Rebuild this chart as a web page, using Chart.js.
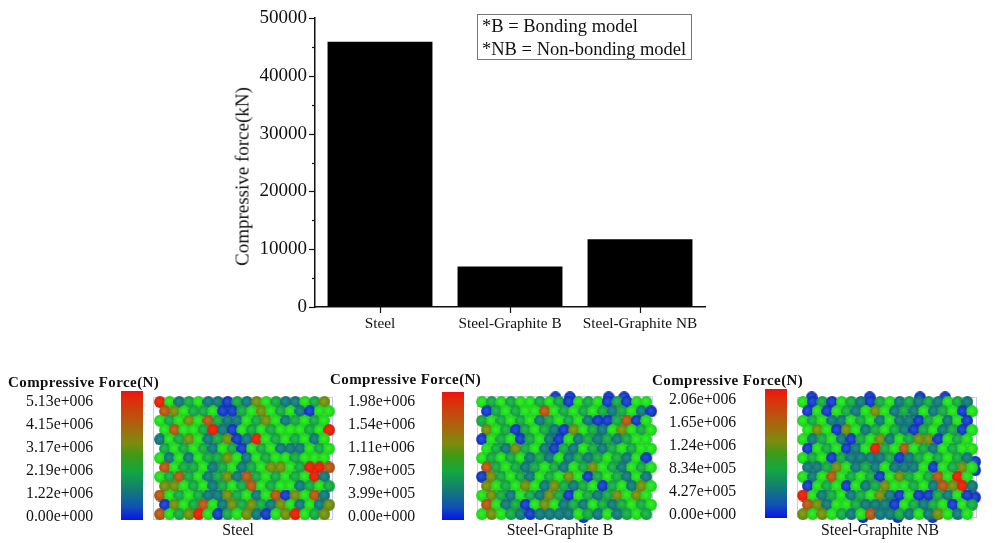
<!DOCTYPE html>
<html>
<head>
<meta charset="utf-8">
<script src="https://cdn.jsdelivr.net/npm/chart.js@4"></script>
<style>
  html, body { margin: 0; padding: 0; background: #fff; }
  #page { position: relative; width: 995px; height: 543px; overflow: hidden; font-family: "Liberation Serif", serif; color: #111; }
  #page canvas { position: absolute; }
  .txt { position: absolute; white-space: nowrap; line-height: 1; }
  .note { position: absolute; left: 477px; top: 14px; width: 213px; height: 44px; border: 1px solid #777; font-size: 18.5px; }
  .note div { position: absolute; left: 4px; white-space: nowrap; line-height: 1; }
  .bar { position: absolute; width: 22px; background: linear-gradient(to bottom, #f01010 0%, #e02a0c 6%, #b9560f 22%, #7f8a10 40%, #3f9a16 50%, #12a83e 62%, #127f72 76%, #1050b8 90%, #0a14e8 100%); }
  .box { position: absolute; border: 1px solid #c8cbf0; box-sizing: border-box; }
</style>
</head>
<body>
<div id="page">
  <canvas id="barChart" width="995" height="345" style="left:0;top:0"></canvas>
  <div class="note"><div style="top:2px">*B = Bonding model</div><div style="top:25px">*NB = Non-bonding model</div></div>
</div>
<script>
// top chart
const categories = ['Steel', 'Steel-Graphite B', 'Steel-Graphite NB'];
const forceKN = [45900, 7010, 11740];

// bottom panels, one letter per particle, low force to high force: b t e g o r R
const steelRows = [
  'Rgtegttbetogettgeo', 'rogeegbbegogegtbgg', 'gegogrettgeogtegeg', 'grggeRtbgegegggegR',
  'tgeogteobtRgegegtg', 'egegetgebgegtttgeg', 'gtgtgeeogtgeggeggg', 'rgeegtegtegoogeRRr',
  'geregteotregegegRt', 'oogegtegergeggtege', 'rgegettoegtgrbogrt', 'bogergtoeoetogtgto',
  'rgeoRgbegotbgoRgeo'
];
const bondedRows = [
  'gegeggegebgegbebgg', 'begeggrgegegetegtb', 'egegegtegegtbberbg', 'ogebegetbogetgogeg',
  'bgegbegtbgtetetegg', 'getoegtbetgetegegg', 'gegegtetgtetegetgb', 'regetegetgeogetgeg',
  'boegetgegogbegetgt', 'ogegogtoetegbegtog', 'goetgetoebgeteogog', 'rgtebgogtetgetegeg',
  'gogetbttttgetgtege'
];
const nonBondedRows = [
  'gbebgetbegtetetget', 'bgbgetgogtetgtegbg', 'gegttgegtgttbegtgb', 'gogbogtegetbegtebg',
  'gtegtbegotgeoobgeg', 'bgegbtgRegrgetgegg', 'gegbettttebtegeget', 'tteogtetgtttgbgeog',
  'gtgrgegebgoegergRg', 'bgegbgteoggegtroRt', 'Rgtegtegotbgbbetgb', 'rotggetttbgetegbge',
  'ogogetgrttetgtogtg'
];
// blue particles poking out of the packing, [column, row]
const bondedEdge = [[7.6, -0.5], [9.1, -0.5], [13.1, -0.5], [14.7, -0.5], [10.5, 12.3]];
const nonBondedEdge = [[0.9, -0.5], [6.9, -0.5], [12.1, -0.5], [14.7, -0.5], [6.2, 12.3], [9.8, 12.3], [13.4, 12.3], [17.8, 6.4], [17.8, 7.3], [17.8, 10.2]];

const steelTicks = ['5.13e+006', '4.15e+006', '3.17e+006', '2.19e+006', '1.22e+006', '0.00e+000'];
const bondedTicks = ['1.98e+006', '1.54e+006', '1.11e+006', '7.98e+005', '3.99e+005', '0.00e+000'];
const nonBondedTicks = ['2.06e+006', '1.65e+006', '1.24e+006', '8.34e+005', '4.27e+005', '0.00e+000'];
const panelTitle = 'Compressive Force(N)';

const levelColors = {
  b: ['#2450d8', '#0e2cb4'], t: ['#1c8c84', '#126a72'], e: ['#20bc4c', '#149640'], g: ['#2cf024', '#1ecc1c'],
  o: ['#80a018', '#608210'], r: ['#c4681c', '#a04e16'], R: ['#f42c0e', '#d41e0c']
};
const CELL_X = 9.67;
const CELL_Y = 9.35;

const page = document.getElementById('page');

function addText(str, left, top, size, extra) {
  const el = document.createElement('div');
  el.className = 'txt';
  el.textContent = str;
  el.style.left = left + 'px';
  el.style.top = (top - size / 2) + 'px';
  el.style.fontSize = size + 'px';
  if (extra) Object.assign(el.style, extra);
  page.appendChild(el);
  return el;
}

// one shaded ball per force level, used as the bubble point style
const sprites = {};
Object.keys(levelColors).forEach(k => {
  const s = document.createElement('canvas');
  s.width = s.height = 12;
  const c = s.getContext('2d');
  const g = c.createRadialGradient(5.2, 5.2, 1, 6, 6, 6);
  g.addColorStop(0, levelColors[k][0]);
  g.addColorStop(1, levelColors[k][1]);
  c.fillStyle = g;
  c.beginPath();
  c.arc(6, 6, 5.9, 0, Math.PI * 2);
  c.fill();
  sprites[k] = s;
});

// tick marks drawn by hand, chart.js only does one tick length per axis
const axisTicks = {
  id: 'axisTicks',
  afterDraw(chart) {
    const { x, y } = chart.scales, c = chart.ctx;
    c.save();
    c.strokeStyle = '#111';
    c.lineWidth = 1.2;
    y.ticks.forEach(t => {
      const py = Math.round(y.getPixelForValue(t.value)) + 0.5;
      const len = t.value % 10000 === 0 ? 6 : 3;
      c.beginPath();
      c.moveTo(y.right - len, py);
      c.lineTo(y.right, py);
      c.stroke();
    });
    categories.forEach((cat, i) => {
      const px = Math.round(x.getPixelForValue(i)) + 0.5;
      c.beginPath();
      c.moveTo(px, chart.chartArea.bottom);
      c.lineTo(px, chart.chartArea.bottom + 6);
      c.stroke();
    });
    c.restore();
  }
};

new Chart(document.getElementById('barChart'), {
  type: 'bar',
  data: {
    labels: categories,
    datasets: [{ data: forceKN, backgroundColor: '#000', barPercentage: 0.807, categoryPercentage: 1 }]
  },
  options: {
    responsive: false,
    animation: false,
    layout: { padding: { left: 225, right: 290, top: 18, bottom: 8 } },
    plugins: { legend: { display: false }, tooltip: { enabled: false } },
    scales: {
      x: {
        afterFit: s => { s.height = 30; },
        border: { color: '#111', width: 1.5 },
        grid: { drawOnChartArea: false, tickLength: 5, tickColor: 'rgba(0,0,0,0)' },
        ticks: { color: '#111', padding: 3, maxRotation: 0, autoSkip: false, font: { family: 'Liberation Serif', size: 15.3 } }
      },
      y: {
        min: 0,
        max: 50000,
        afterFit: s => { s.width = 90; },
        border: { color: '#111', width: 1.5 },
        grid: { drawOnChartArea: false, tickLength: 6, tickColor: 'rgba(0,0,0,0)' },
        ticks: {
          stepSize: 5000,
          color: '#111',
          padding: 2,
          font: { family: 'Liberation Serif', size: 19 },
          callback: v => (v % 10000 === 0 ? String(v) : '')
        }
      }
    }
  },
  plugins: [axisTicks]
});

// y axis title sits below the axis middle in the reference
const yTitle = addText('Compressive force(kN)', 242, 176, 19);
yTitle.style.transform = 'translate(-50%, 0) rotate(-90deg)';

function drawPanel(p) {
  const canvas = document.createElement('canvas');
  canvas.width = 205;
  canvas.height = 150;
  canvas.style.left = (p.col0X - 20) + 'px';
  canvas.style.top = (p.row0Y - 20) + 'px';

  const box = document.createElement('div');
  box.className = 'box';
  Object.assign(box.style, { left: p.boxLeft + 'px', top: p.boxTop + 'px', width: p.boxW + 'px', height: p.boxH + 'px' });
  page.appendChild(box);
  page.appendChild(canvas);

  const points = [], styles = [];
  (p.edge || []).forEach(([x, y]) => {
    points.push({ x, y, r: 6 });
    styles.push(sprites.b);
  });
  p.rows.forEach((row, r) => {
    [...row].forEach((lvl, c) => {
      points.push({ x: c + (r % 2) * 0.5, y: r, r: 6 });
      styles.push(sprites[lvl]);
    });
  });

  const chart = new Chart(canvas, {
    type: 'bubble',
    data: { datasets: [{ data: points, pointStyle: styles, backgroundColor: '#000', borderWidth: 0 }] },
    options: {
      responsive: false,
      animation: false,
      plugins: { legend: { display: false }, tooltip: { enabled: false } },
      scales: {
        x: { display: false, min: -1, max: 19 },
        y: { display: false, min: -1, max: 13, reverse: true }
      }
    }
  });

  // bubbles pad the chart area, so fit the ranges to one cell per particle afterwards
  const area = chart.chartArea;
  chart.options.scales.x.min = (area.left - 20) / CELL_X;
  chart.options.scales.x.max = chart.options.scales.x.min + area.width / CELL_X;
  chart.options.scales.y.min = (area.top - 20) / CELL_Y;
  chart.options.scales.y.max = chart.options.scales.y.min + area.height / CELL_Y;
  chart.update();

  const bar = document.createElement('div');
  bar.className = 'bar';
  Object.assign(bar.style, { left: p.barLeft + 'px', top: p.barTop + 'px', height: p.barH + 'px' });
  page.appendChild(bar);

  addText(panelTitle, p.titleLeft, p.titleY, 15, { fontWeight: 'bold', letterSpacing: '0.4px' });
  p.ticks.forEach((t, i) => addText(t, p.tickLeft, p.tickY + i * 23, 15.8));
  const cap = addText(p.caption, p.captionX, 530, 15.8);
  cap.style.transform = 'translateX(-50%)';
}

drawPanel({
  rows: steelRows, ticks: steelTicks, caption: 'Steel', captionX: 238, col0X: 160, row0Y: 402,
  boxLeft: 153, boxTop: 397, boxW: 180, boxH: 123,
  barLeft: 121, barTop: 391, barH: 129, titleLeft: 8, titleY: 382, tickLeft: 26, tickY: 401
});
drawPanel({
  rows: bondedRows, edge: bondedEdge, ticks: bondedTicks, caption: 'Steel-Graphite B', captionX: 560, col0X: 481.7, row0Y: 402,
  boxLeft: 477, boxTop: 396, boxW: 176, boxH: 122,
  barLeft: 442, barTop: 392, barH: 128, titleLeft: 330, titleY: 379, tickLeft: 348, tickY: 401
});
drawPanel({
  rows: nonBondedRows, edge: nonBondedEdge, ticks: nonBondedTicks, caption: 'Steel-Graphite NB', captionX: 880, col0X: 803.3, row0Y: 402,
  boxLeft: 797, boxTop: 397, boxW: 180, boxH: 121,
  barLeft: 765, barTop: 389, barH: 129, titleLeft: 652, titleY: 380, tickLeft: 669, tickY: 399
});
</script>
</body>
</html>
